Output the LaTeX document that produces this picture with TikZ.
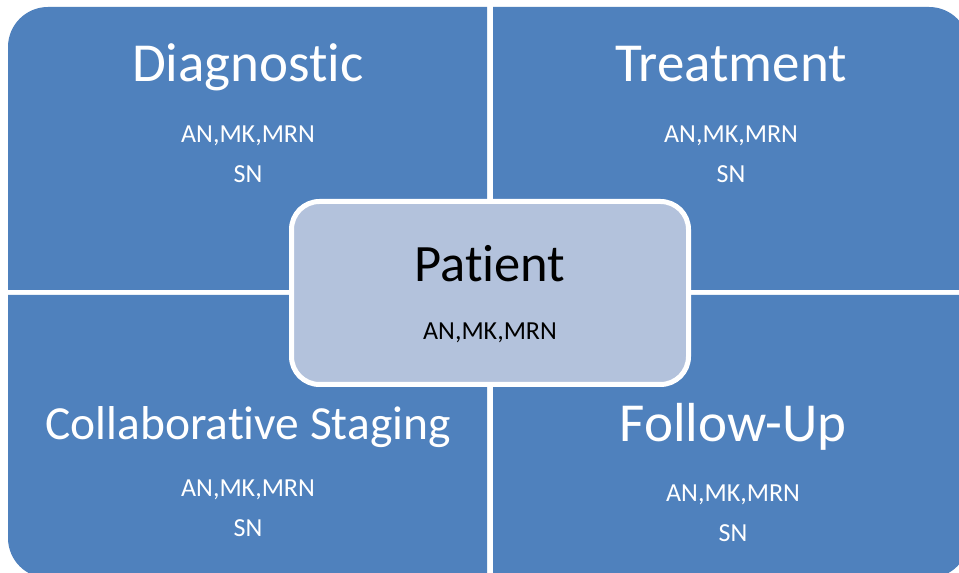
\documentclass[tikz,border=0pt]{standalone}
\usepackage{fontspec}
\setmainfont{Carlito}[RawFeature={-liga,-clig,-dlig}]
\definecolor{quadblue}{RGB}{79,129,189}
\definecolor{centerfill}{RGB}{179,194,220}
\begin{document}
\begin{tikzpicture}[x=1pt,y=1pt,
  quad/.style={fill=quadblue},
  titletext/.style={anchor=base,inner sep=0pt,text=white,font=\fontsize{55}{60}\selectfont},
  smalltitle/.style={anchor=base,inner sep=0pt,text=white,font=\fontsize{47.5}{52}\selectfont},
  subtext/.style={anchor=base,inner sep=0pt,text=white,font=\fontsize{26}{28}\selectfont},
  centerbox/.style={draw=white,line width=5pt,fill=centerfill,rounded corners=28pt},
  ctitle/.style={anchor=base,inner sep=0pt,text=black,font=\fontsize{52.5}{58}\selectfont},
  csub/.style={anchor=base,inner sep=0pt,text=black,font=\fontsize{26}{28}\selectfont}]
\useasboundingbox (0,0) rectangle (959,573);
\fill[white] (0,0) rectangle (959,573);
% quadrants
\fill[quad] (8,283) -- (8,526) arc[start angle=180,end angle=90,radius=40] -- (487,566) -- (487,283) -- cycle;
\fill[quad] (493,283) -- (493,566) -- (929,566) arc[start angle=90,end angle=0,radius=40] -- (969,283) -- cycle;
\fill[quad] (8,278) -- (8,35) arc[start angle=180,end angle=270,radius=40] -- (487,-5) -- (487,278) -- cycle;
\fill[quad] (493,278) -- (493,-5) -- (929,-5) arc[start angle=270,end angle=360,radius=40] -- (969,278) -- cycle;
% centre box
\draw[centerbox] (291.5,188.5) rectangle (688.5,371.5);
% texts
\node[titletext] (diag) at (248,491.3) {Diagnostic};
\node[subtext] (diaga) at (248,430.3) {AN,MK,MRN};
\node[subtext] (diagb) at (248,390) {SN};
\node[titletext] (treat) at (731,491.3) {Treatment};
\node[subtext] (treata) at (731,430.3) {AN,MK,MRN};
\node[subtext] (treatb) at (731,390) {SN};
\node[smalltitle] (collab) at (248,133) {Collaborative Staging};
\node[subtext] (collaba) at (248,76.3) {AN,MK,MRN};
\node[subtext] (collabb) at (248,36.3) {SN};
\node[titletext] (follow) at (733,131.3) {Follow-Up};
\node[subtext] (followa) at (733,71) {AN,MK,MRN};
\node[subtext] (followb) at (733,31) {SN};
\node[ctitle] (patient) at (490,291.3) {Patient};
\node[csub] (patienta) at (490,233) {AN,MK,MRN};
\end{tikzpicture}
\end{document}
